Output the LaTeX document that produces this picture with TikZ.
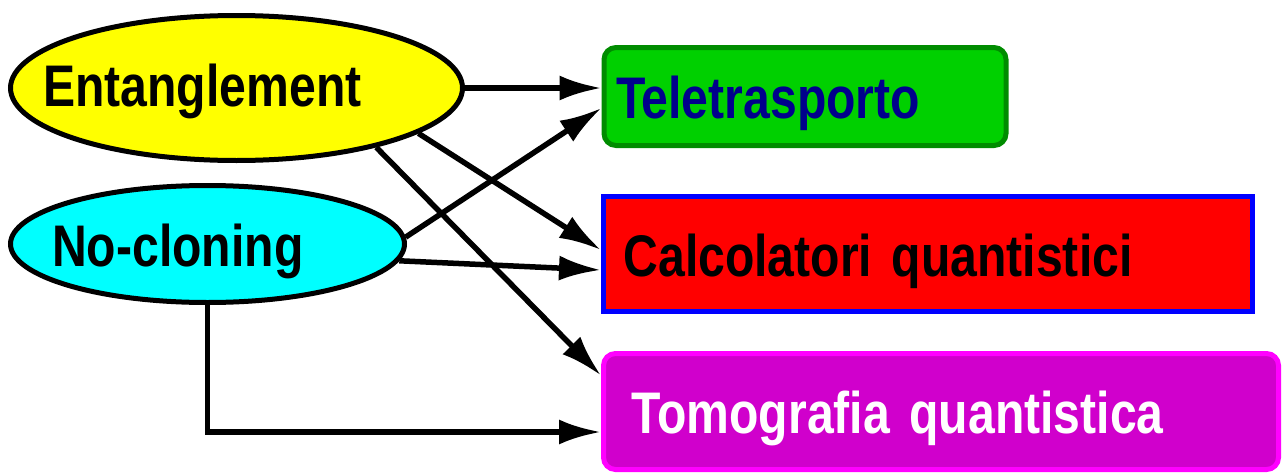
\documentclass[tikz,border=0pt]{standalone}
\usepackage{fontspec}
\usetikzlibrary{shapes.geometric,arrows.meta}
\newfontfamily\lblfont{Liberation Sans Bold}[FakeStretch=0.82,WordSpace=0.8]
\newcommand{\bigfont}{\lblfont\fontsize{58.7}{60}\selectfont}

\definecolor{entfill}{RGB}{255,255,0}
\definecolor{ncfill}{RGB}{0,255,255}
\definecolor{telfill}{RGB}{0,208,0}
\definecolor{teledge}{RGB}{0,140,0}
\definecolor{teltext}{RGB}{0,0,140}
\definecolor{calfill}{RGB}{255,0,0}
\definecolor{caledge}{RGB}{0,0,255}
\definecolor{tomfill}{RGB}{208,0,204}
\definecolor{tomedge}{RGB}{255,0,255}

\tikzset{
  oval/.style={ellipse,draw=black,line width=5pt,inner sep=0pt},
  lbl/.style={anchor=base west,inner sep=0pt,font=\bigfont},
  target/.style={rectangle,line width=5pt,inner ysep=0pt,align=left,
    text height=44pt,text depth=0pt,font=\bigfont},
  link/.style={line width=5.5pt,-{Latex[length=42pt,width=25pt]}}
}

\begin{document}
\begin{tikzpicture}[x=1pt,y=-1pt]
\useasboundingbox (0,0) rectangle (1283,474);

% the two ideas on the left
\node[oval,fill=entfill,minimum width=452pt,minimum height=145pt] (ent) at (236.5,88) {};
\node[lbl] (entlbl) at (43,106) {Entanglement};
\node[oval,fill=ncfill,minimum width=394pt,minimum height=117pt] (nc) at (207.5,244) {};
\node[lbl] (nclbl) at (52,266) {No-cloning};

% what they lead to
\node[target,fill=telfill,draw=teledge,text=teltext,rounded corners=12pt,
  minimum height=98pt,inner xsep=12pt,text width=378pt] (tel) at (805,96.5) {Teletrasporto};
\node[target,fill=calfill,draw=caledge,text=black,
  minimum height=115pt,inner xsep=20pt,text width=609pt] (cal) at (928,254) {Calcolatori quantistici};
\node[target,fill=tomfill,draw=tomedge,text=white,rounded corners=12pt,
  minimum height=116pt,inner xsep=28pt,text width=619pt] (tom) at (941,411.5) {Tomografia quantistica};

\draw[link] (ent.east) -- (ent.east -| tel.west);
\draw[link] (ent.-14) -- ([yshift=4pt]cal.west);
\draw[link] (ent.-23) -- ([yshift=36pt]tom.west);
\draw[link] (nc.2) -- ([yshift=-11.5pt]tel.west);
\draw[link] (nc.-5) -- ([yshift=-16pt]cal.west);
\draw[link] (nc.south) |- ([yshift=-20.5pt]tom.west);

\end{tikzpicture}
\end{document}
